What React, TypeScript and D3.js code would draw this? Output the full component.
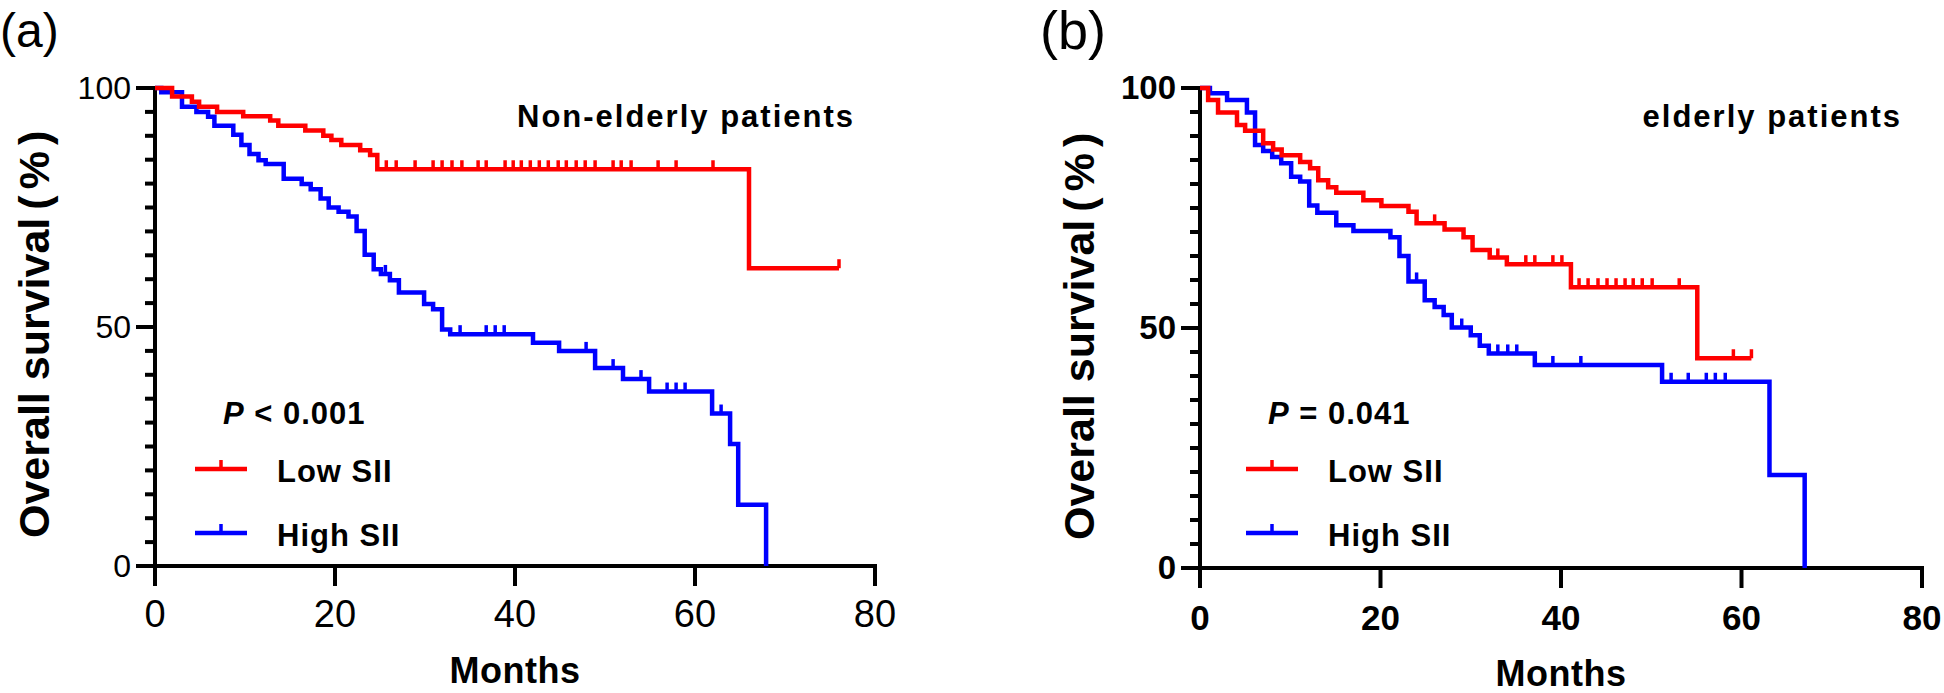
import React from 'react';
import * as d3 from 'd3';

const width = 1944;
const height = 693;
const red = '#FF0000';
const blue = '#0000FF';
const font = '"Liberation Sans", Arial, "Noto Sans CJK SC", sans-serif';

// x ticks (months), y ticks (%)
const monthTicks = [0, 20, 40, 60, 80];
const pctLabelTicks = [0, 50, 100];
const pctMinorTicks = d3.range(0, 101, 5);

// (a) non-elderly, [month, survival %]
const lowSIIa = [[0, 100], [1.9, 98.2], [4.1, 97.1], [4.9, 96.1], [6.9, 95], [9.8, 94.1], [12.8, 93.2], [13.7, 92.1],
  [16.7, 91.1], [18.7, 90], [19.6, 89.1], [20.7, 88.1], [22.8, 87], [23.9, 86], [24.7, 83], [66, 62.3], [76, 62.3]];
const lowSIIaCensor = [25.7, 26.8, 28.9, 30.9, 31.9, 33, 34.1, 35.9, 36.8, 38.9, 39.8, 40.7, 41.7, 42.7, 43.7, 44.8,
  45.7, 46.8, 47.8, 48.9, 50.9, 51.8, 52.9, 55.9, 57.9, 62, 76];
const highSIIa = [[0, 100], [0.7, 99.1], [3, 96.1], [4.6, 95], [5.9, 94], [6.6, 92.1], [8.7, 90.2], [9.6, 88.1],
  [10.5, 86.2], [11.5, 84.9], [12.3, 84.1], [14.3, 81], [16.3, 79.9], [17.3, 78.8], [18.4, 76.9], [19.3, 75],
  [20.4, 74.1], [21.5, 73.1], [22.4, 70.1], [23.3, 65.1], [24.3, 62.1], [25.1, 61.1], [26.1, 59.8], [27.1, 57.2],
  [29.9, 54.8], [30.9, 53.7], [31.9, 49.5], [32.8, 48.5], [42, 46.7], [44.9, 45], [48.9, 41.4], [52, 39.1],
  [54.9, 36.5], [61.9, 31.9], [63.9, 25.5], [64.8, 12.8], [67.9, 0]];
const highSIIaCensor = [25.6, 33.9, 36.8, 37.8, 38.8, 47.9, 50.9, 54, 56.9, 57.9, 58.9, 62.9];

// (b) elderly
const lowSIIb = [[0, 100], [0.9, 97.5], [2, 94.9], [4.1, 92.3], [5, 91.1], [7, 88.5], [8.1, 87.2], [9.05, 86],
  [11.1, 84.6], [12.2, 83.3], [13.1, 80.8], [14.2, 79.3], [15.1, 78.2], [18.1, 76.6], [20.1, 75.4], [23.1, 74.2],
  [24, 71.8], [27.1, 70.5], [29.2, 68.9], [30.2, 66.25], [32.1, 64.7], [34, 63.3], [41.1, 58.5], [55.1, 43.7],
  [61.1, 43.7]];
const lowSIIbCensor = [26, 33, 36.1, 37.1, 39.1, 40.1, 42, 43, 44.1, 45.1, 46.1, 47.1, 48, 49, 50.1, 53.1, 59.1, 61.1];
const highSIIb = [[0, 100], [1.1, 98.9], [3, 97.5], [5.2, 94.9], [6.1, 88.1], [7, 86.9], [8, 85.6], [9, 84.3],
  [10.1, 81.5], [11.1, 80.5], [12.1, 75.5], [13, 74], [15.1, 71.4], [17, 70.2], [21.1, 68.9], [22.1, 65],
  [23.1, 59.7], [24.9, 55.8], [26, 54.4], [27, 52.7], [27.9, 50.1], [30, 48.5], [31, 46.3], [32, 44.7],
  [37.1, 42.3], [51.2, 38.8], [63.1, 19.4], [67, 0]];
const highSIIbCensor = [24, 29, 33, 34.1, 35.1, 39.1, 42.2, 52.2, 54.1, 56.1, 57.1, 58.2];

const panels = [
  {
    tag: '(a)', tagX: 0, tagY: 47, tagSize: 48,
    title: 'Non-elderly patients', pText: ' < 0.001',
    x0: 155, x1: 875, y0: 566, y1: 88, bold: false,
    low: lowSIIa, lowCensor: lowSIIaCensor, high: highSIIa, highCensor: highSIIaCensor,
    labelX: 49, monthsY: 683, xTickY: 627, xTickSize: 38, yTickSize: 32, legLine: 40, legText: 122,
  },
  {
    tag: '(b)', tagX: 1040, tagY: 49, tagSize: 54,
    title: 'elderly patients', pText: ' = 0.041',
    x0: 1200, x1: 1922, y0: 568, y1: 88, bold: true,
    low: lowSIIb, lowCensor: lowSIIbCensor, high: highSIIb, highCensor: highSIIbCensor,
    labelX: 1094, monthsY: 686, xTickY: 630, xTickSize: 35, yTickSize: 33, legLine: 46, legText: 128,
  },
];

const survAt = (data, t) => {
  const i = d3.bisector(d => d[0]).right(data, t) - 1;
  return data[Math.max(0, i)][1];
};

function Panel({ p }) {
  const x = d3.scaleLinear().domain([0, 80]).range([p.x0, p.x1]);
  const y = d3.scaleLinear().domain([0, 100]).range([p.y0, p.y1]);
  const line = d3.line().x(d => x(d[0])).y(d => y(d[1])).curve(d3.curveStepAfter);
  const weight = p.bold ? 'bold' : 'normal';

  const curve = (data, censor, color) => (
    <g stroke={color} fill="none">
      <path d={line(data)} strokeWidth={4.5} strokeLinejoin="miter" />
      {censor.map((t, i) => (
        <line key={i} x1={x(t)} x2={x(t)} y1={y(survAt(data, t))} y2={y(survAt(data, t)) - 9} strokeWidth={3.5} />
      ))}
    </g>
  );

  const legend = [
    { name: 'Low SII', color: red, yy: 471 },
    { name: 'High SII', color: blue, yy: 535 },
  ];

  return (
    <g>
      <text x={p.tagX} y={p.tagY} fontFamily={font} fontSize={p.tagSize}>{p.tag}</text>

      {/* axes */}
      <g stroke="#000" strokeWidth={4}>
        <line x1={p.x0} x2={p.x0} y1={y(0)} y2={y(100)} strokeLinecap="square" />
        <line x1={p.x0} x2={x(80)} y1={y(0)} y2={y(0)} strokeLinecap="square" />
        {pctMinorTicks.map(v => (
          <line key={v} x1={p.x0 - (v % 50 === 0 ? 19 : 10)} x2={p.x0} y1={y(v)} y2={y(v)} />
        ))}
        {monthTicks.map(v => (
          <line key={v} x1={x(v)} x2={x(v)} y1={y(0)} y2={y(0) + 20} />
        ))}
      </g>
      {pctLabelTicks.map(v => (
        <text key={v} x={p.x0 - 24} y={y(v) + 11} textAnchor="end" fontFamily={font}
          fontSize={p.yTickSize} fontWeight={weight}>{v}</text>
      ))}
      {monthTicks.map(v => (
        <text key={v} x={x(v)} y={p.xTickY} textAnchor="middle" fontFamily={font}
          fontSize={p.xTickSize} fontWeight={weight}>{v}</text>
      ))}

      <text x={(p.x0 + p.x1) / 2} y={p.monthsY} textAnchor="middle" fontFamily={font} fontSize={36}
        fontWeight="bold" letterSpacing={0.5}>Months</text>
      <text transform={`translate(${p.labelX},${y(0) - 28}) rotate(-90)`} textAnchor="start"
        fontFamily={font} fontSize={43} fontWeight="bold">
        Overall survival<tspan dx={8}>(</tspan><tspan dx={6}>%</tspan><tspan dx={6}>)</tspan>
      </text>

      {curve(p.high, p.highCensor, blue)}
      {curve(p.low, p.lowCensor, red)}

      <text x={p.x1 - 20} y={127} textAnchor="end" fontFamily={font} fontSize={31} fontWeight="bold"
        letterSpacing={2}>{p.title}</text>

      <text x={p.x0 + 68} y={424} fontFamily={font} fontSize={31} fontWeight="bold" letterSpacing={1}>
        <tspan fontStyle="italic">P</tspan>{p.pText}
      </text>
      {legend.map(l => (
        <g key={l.name}>
          <line x1={p.x0 + p.legLine} x2={p.x0 + p.legLine + 52} y1={l.yy - 2} y2={l.yy - 2} stroke={l.color} strokeWidth={4.5} />
          <line x1={p.x0 + p.legLine + 26} x2={p.x0 + p.legLine + 26} y1={l.yy - 2} y2={l.yy - 11} stroke={l.color} strokeWidth={3.5} />
          <text x={p.x0 + p.legText} y={l.yy + 11} fontFamily={font} fontSize={31} fontWeight="bold"
            letterSpacing={1}>{l.name}</text>
        </g>
      ))}
    </g>
  );
}

export default function App() {
  return (
    <svg width={width} height={height} style={{ position: 'absolute', left: 0, top: 0, background: '#fff' }}>
      <rect width={width} height={height} fill="#fff" />
      {panels.map(p => <Panel key={p.tag} p={p} />)}
    </svg>
  );
}
